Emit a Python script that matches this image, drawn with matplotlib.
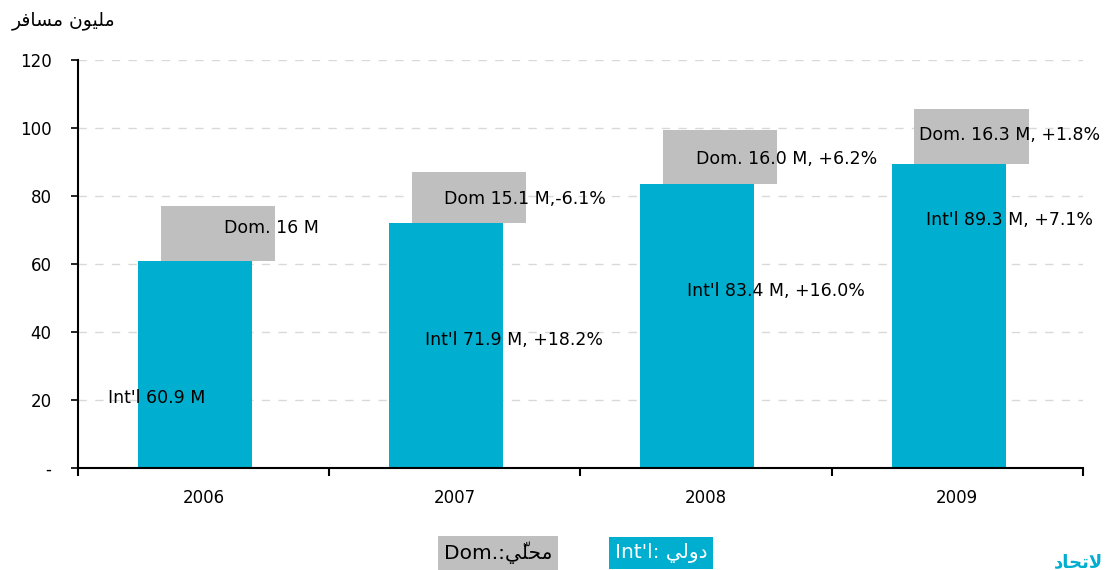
import matplotlib
matplotlib.use("Agg")
from matplotlib import pyplot as plt
from matplotlib.ticker import FuncFormatter

years = ['2006', '2007', '2008', '2009']
intl = [60.9, 71.9, 83.4, 89.3]
dom = [16.0, 15.1, 16.0, 16.3]

intl_labels = ["Int'l 60.9 M", "Int'l 71.9 M, +18.2%",
               "Int'l 83.4 M, +16.0%", "Int'l 89.3 M, +7.1%"]
dom_labels = ["Dom. 16 M", "Dom 15.1 M,-6.1%",
              "Dom. 16.0 M, +6.2%", "Dom. 16.3 M, +1.8%"]

# label placement (x offset from category, y in data units)
intl_lab_dx = [-0.381, -0.119, -0.076, -0.125]
intl_lab_y = [20.6, 37.6, 52.1, 72.9]
dom_lab_dx = [0.081, -0.043, -0.040, -0.153]
dom_lab_y = [70.6, 79.1, 90.9, 97.9]

# Arabic written in presentation forms, visual order
ylabel_ar = '\uFEAE\uFED3\uFE8E\uFEB4\uFEE3 \uFEE5\uFEEE\uFEF4\uFEE0\uFEE3'  # مليون مسافر
dom_ar = '\uFEF2\u0651\uFEE0\uFEA4\uFEE3'  # محليّ
intl_ar = '\uFEF2\uFEDF\uFEED\uFEA9'  # دولي
logo_ar = '\uFEA9\uFE8E\uFEA4\uFE97\uFEFB'  # لاتحاد

CYAN = '#00AFCF'
GREY = '#BFBFBF'

plt.rcParams['font.family'] = ['DejaVu Sans']

fig = plt.figure(figsize=(11.06, 5.70), dpi=100)
ax = fig.add_axes([0.0705, 0.179, 0.9085, 0.716])

x = list(range(len(years)))
w = 0.454
ax.bar([i - 0.034 for i in x], intl, width=w, color=CYAN, zorder=2)
ax.bar([i + 0.057 for i in x], dom, bottom=intl, width=w, color=GREY, zorder=1)

for i in x:
    ax.text(i + intl_lab_dx[i], intl_lab_y[i], intl_labels[i], fontsize=12.5,
            ha='left', va='center', zorder=3)
    ax.text(i + dom_lab_dx[i], dom_lab_y[i], dom_labels[i], fontsize=12.5,
            ha='left', va='center', zorder=3)

ax.set_xlim(-0.5, 3.5)
ax.set_ylim(0, 120)
ax.set_yticks(range(0, 121, 20))
ax.yaxis.set_major_formatter(FuncFormatter(lambda v, p: '-' if v == 0 else '%d' % v))
ax.tick_params(axis='y', direction='out', length=5, width=1.2, pad=14, labelsize=12)
for v in range(20, 121, 20):
    ax.axhline(v, color='#D9D9D9', lw=1, ls=(0, (6, 6)), zorder=0)

ax.set_xticks(x)
ax.set_xticklabels(years)
ax.set_xticks([-0.5, 0.5, 1.5, 2.5, 3.5], minor=True)
ax.tick_params(axis='x', which='major', length=0, pad=15, labelsize=12)
ax.tick_params(axis='x', which='minor', direction='out', length=6, width=1.5)

for s in ['top', 'right']:
    ax.spines[s].set_visible(False)
ax.spines['left'].set_linewidth(1.5)
ax.spines['bottom'].set_linewidth(1.5)

fig.text(12 / 1106, 1 - 20 / 570, ylabel_ar, fontsize=13.5, ha='left', va='center')

fig.text(498 / 1106, 1 - 553 / 570, 'Dom.:' + dom_ar, fontsize=14.5, ha='center', va='center',
         color='black', bbox=dict(boxstyle='square,pad=0.3', fc=GREY, ec='none'))
fig.text(661 / 1106, 1 - 553 / 570, "Int'l: " + intl_ar, fontsize=14.5, ha='center', va='center',
         color='white', bbox=dict(boxstyle='square,pad=0.3', fc=CYAN, ec='none'))
fig.text(1103 / 1106, 1 - 562 / 570, logo_ar, fontsize=13, ha='right', va='center',
         color=CYAN, fontweight='bold')

fig.savefig('out.png', dpi=100)
